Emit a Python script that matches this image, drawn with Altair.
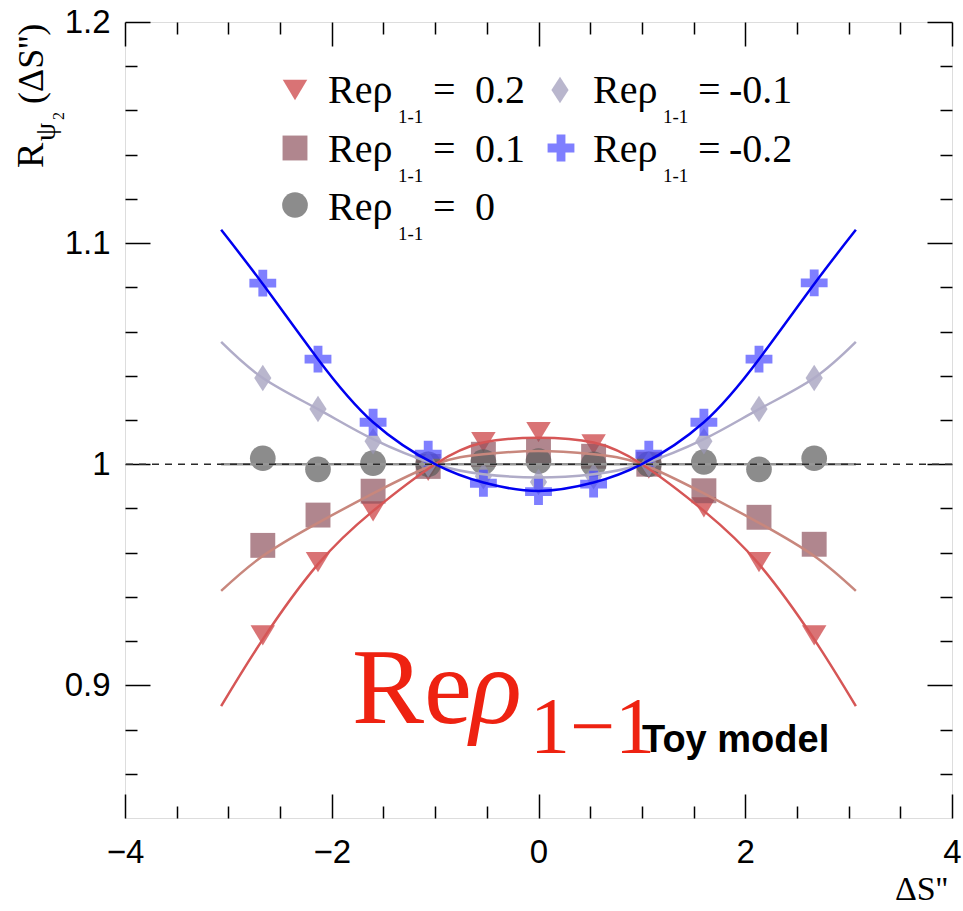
import altair as alt
import pandas as pd

# ---------------- data ----------------
X_BINS = [-2.667, -2.133, -1.6, -1.067, -0.533, 0.0, 0.533, 1.067, 1.6, 2.133, 2.667]
SERIES = ["0.2", "0.1", "0", "-0.1", "-0.2"]
PTS_P02 = [0.9226, 0.9557, 0.9787, 0.997, 1.010, 1.0145, 1.009, 0.998, 0.9805, 0.9557, 0.9226]
PTS_P01 = [0.9633, 0.977, 0.9878, 0.999, 1.0045, 1.006, 1.0036, 1.0, 0.988, 0.976, 0.9638]
PTS_0 = [1.0027, 0.9977, 1.0005, 1.0, 1.001, 1.0014, 1.0, 1.0, 1.001, 0.9977, 1.0027]
PTS_M01 = [1.039, 1.025, 1.0104, 1.0, 0.9946, 0.992, 0.9946, 1.0, 1.0104, 1.025, 1.039]
PTS_M02 = [1.0819, 1.0475, 1.019, 1.0045, 0.9914, 0.9876, 0.991, 1.0045, 1.019, 1.0475, 1.082]

CURVE_X = [-3.07, -2.667, -2.133, -1.6, -1.0, -0.533, 0.0, 0.533, 1.0, 1.6, 2.133, 2.667, 3.07]
FIT_P02 = [0.8906, 0.9208, 0.9548, 0.9789, 1.0, 1.0098, 1.012, 1.0098, 1.0, 0.9789, 0.9548, 0.9208, 0.8906]
FIT_P01 = [0.9427, 0.9585, 0.9735, 0.9868, 1.0, 1.0045, 1.006, 1.0045, 1.0, 0.9868, 0.9735, 0.9585, 0.9427]
FIT_0 = [1.0, 1.0, 1.0, 1.0, 1.0, 1.0, 1.0, 1.0, 1.0, 1.0, 1.0, 1.0, 1.0]
FIT_M01 = [1.0553, 1.0390, 1.0249, 1.0113, 1.0, 0.9955, 0.994, 0.9955, 1.0, 1.0113, 1.0249, 1.0390, 1.0553]
FIT_M02 = [1.106, 1.0815, 1.0475, 1.019, 1.0, 0.9917, 0.9879, 0.9917, 1.0, 1.019, 1.0475, 1.0815, 1.106]

REF = [1.0]

X_MAJOR = [-4, -2, 0, 2, 4]
X_MINOR = [-3.5, -3, -2.5, -1.5, -1, -0.5, 0.5, 1, 1.5, 2.5, 3, 3.5]
Y_MAJOR = [0.9, 1.0, 1.1, 1.2]
Y_MINOR = [0.86, 0.88, 0.92, 0.94, 0.96, 0.98, 1.02, 1.04, 1.06, 1.08,
           1.12, 1.14, 1.16, 1.18]

LEG_VALUES = ["0.2", "0.1", "0", "-0.1", "-0.2"]

# ---------------- styles ----------------
MARK_COLORS = ["#c9373b", "#8e525e", "#5b5b5b", "#9b97b8", "#4949ff"]
LINE_COLORS = ["#d65656", "#c8877d", "#969696", "#b0acc8", "#0000f0"]
TRI = "M-1,-0.83L1,-0.83L0,0.83Z"
DIAM = "M0,-1L0.65,0L0,1L-0.65,0Z"
PLUS = "M-0.33,-1H0.33V-0.33H1V0.33H0.33V1H-0.33V0.33H-1V-0.33H-0.33Z"
SHAPES = [TRI, "square", "circle", DIAM, PLUS]
SIZES = [600, 620, 660, 700, 720]

SERIF = "Liberation Serif"
SANS = "Liberation Sans"

W, H = 827, 796
L, T = 125, 22

XS = alt.Scale(domain=[-4, 4], nice=False, zero=False)
YS = alt.Scale(domain=[0.84, 1.2], nice=False, zero=False)


def axis(orient, values, size, labels):
    kw = dict(orient=orient, values=values, tickSize=size, offset=-size,
              domain=False, grid=False, labels=labels, title=None,
              tickColor="black", tickWidth=1.5, labelFlush=False,
              labelOverlap=False, labelColor="black", labelFont=SANS,
              labelFontSize=33)
    if orient == "bottom":
        kw["labelPadding"] = 18
    elif orient == "left":
        kw["labelPadding"] = 15
        kw["format"] = "~g"
    return alt.Axis(**kw)


AXES = [
    (axis("bottom", X_MAJOR, 24, True), axis("left", Y_MAJOR, 25, True)),
    (axis("bottom", X_MINOR, 12, False), axis("left", Y_MINOR, 12, False)),
    (axis("top", X_MAJOR, 24, False), axis("right", Y_MAJOR, 25, False)),
    (axis("top", X_MINOR, 12, False), axis("right", Y_MINOR, 12, False)),
]

pts_vals = [PTS_P02, PTS_P01, PTS_0, PTS_M01, PTS_M02]
fit_vals = [FIT_P02, FIT_P01, FIT_0, FIT_M01, FIT_M02]

layers = []
for i, vals in enumerate(pts_vals):
    df = pd.DataFrame({"x": X_BINS, "y": vals})
    ax_x, ax_y = AXES[i] if i < len(AXES) else (None, None)
    layers.append(
        alt.Chart(df).mark_point(shape=SHAPES[i], size=SIZES[i], filled=True,
                                 color=MARK_COLORS[i], opacity=0.7, strokeWidth=0)
        .encode(x=alt.X("x:Q", scale=XS, axis=ax_x),
                y=alt.Y("y:Q", scale=YS, axis=ax_y))
    )

line_order = [2, 1, 0, 3, 4]
for i in line_order:
    df = pd.DataFrame({"x": CURVE_X, "y": fit_vals[i]})
    layers.append(
        alt.Chart(df).mark_line(color=LINE_COLORS[i], strokeWidth=2.5,
                                interpolate="natural")
        .encode(x=alt.X("x:Q", scale=XS, axis=None),
                y=alt.Y("y:Q", scale=YS, axis=None))
    )

layers.append(
    alt.Chart(pd.DataFrame({"y": REF})).mark_rule(
        strokeDash=[7, 6], color="#2a2a2a", strokeWidth=1.6)
    .encode(y=alt.Y("y:Q", scale=YS, axis=None))
)

dummy = pd.DataFrame({"a": [0]})


def label(text, sx, sy, size, font=SERIF, color="black", style="normal",
          weight="normal", angle=0, align="left", baseline="alphabetic"):
    return alt.Chart(dummy).mark_text(
        text=text, fontSize=size, font=font, color=color, fontStyle=style,
        fontWeight=weight, angle=angle, align=align, baseline=baseline
    ).encode(x=alt.value(sx - L), y=alt.value(sy - T))


def marker(i, sx, sy):
    return alt.Chart(dummy).mark_point(
        shape=SHAPES[i], size=SIZES[i], filled=True, color=MARK_COLORS[i],
        opacity=0.7, strokeWidth=0
    ).encode(x=alt.value(sx - L), y=alt.value(sy - T))


# legend: (marker x, marker y, text x, baseline y, "=" x, value x)
leg_pos = [(295, 90, 328, 103, 433, 475), (295, 148, 328, 162, 433, 475),
           (295, 205, 328, 220, 433, 475),
           (560, 90, 593, 103, 698, 729), (561, 148, 593, 162, 698, 729)]
for i, (mx, my, tx, ty, ex, vx) in enumerate(leg_pos):
    layers.append(marker(i, mx, my))
    layers.append(label("Reρ", tx, ty, 40))
    layers.append(label("1-1", tx + 70, ty + 20, 19))
    layers.append(label("=", ex, ty, 40))
    layers.append(label(LEG_VALUES[i], vx, ty, 40))

# y-axis title (rotated)
layers.append(label("R", 43, 168, 38, angle=270))
layers.append(label("ψ", 55, 141, 29, angle=270))
layers.append(label("2", 64, 120, 16, angle=270))
layers.append(label("(ΔS'')", 43, 104, 36, angle=270))

# x-axis title
layers.append(label("ΔS''", 948, 900, 34, align="right"))

# annotations
RED = "#ee2211"
layers.append(label("Re", 352, 723, 108, color=RED))
layers.append(label("ρ", 470, 723, 108, color=RED, style="italic"))
layers.append(label("1−1", 530, 753, 80, color=RED))
layers.append(label("Toy model", 642, 752, 38, font=SANS, weight="bold"))

chart = (
    alt.layer(*layers)
    .resolve_axis(x="independent", y="independent")
    .properties(width=W, height=H,
                autosize=alt.AutoSizeParams(type="none"),
                padding={"left": L, "top": T, "right": 963 - L - W, "bottom": 911 - T - H})
    .configure_view(stroke="black", strokeWidth=2)
    .configure(background="white")
)

chart.save("out.html", embed_options={"renderer": "svg", "actions": False})
